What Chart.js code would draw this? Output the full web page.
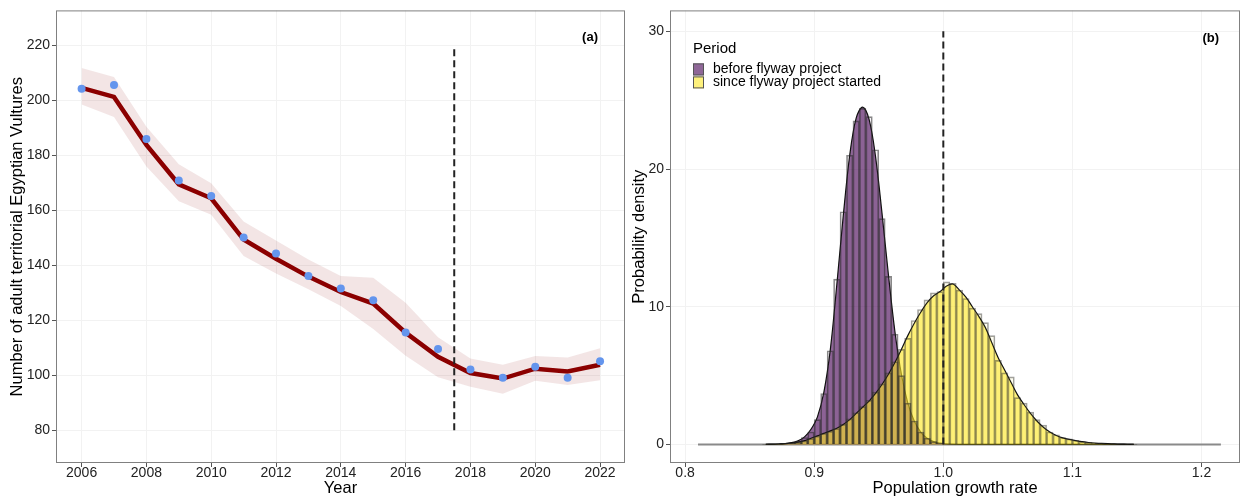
<!DOCTYPE html>
<html>
<head>
<meta charset="utf-8">
<script src="https://cdn.jsdelivr.net/npm/chart.js@4.4.1/dist/chart.umd.min.js"></script>
<style>
  html, body { margin: 0; padding: 0; background: #fff; }
  #wrap { position: relative; width: 1241px; height: 498px; }
  #leftBox { position: absolute; left: 0; top: 0; width: 630px; height: 498px; }
  #rightBox { position: absolute; left: 630px; top: 0; width: 611px; height: 498px; }
</style>
</head>
<body>
<div id="wrap">
  <div id="leftBox"><canvas id="trendChart"></canvas></div>
  <div id="rightBox"><canvas id="growthChart"></canvas></div>
</div>
<script>
// ---- panel (a): counts per year ----
const years    = [2006, 2007, 2008, 2009, 2010, 2011, 2012, 2013, 2014, 2015, 2016, 2017, 2018, 2019, 2020, 2021, 2022];
const counted  = [204.3, 205.6, 186.0, 170.9, 165.2, 150.1, 144.3, 136.1, 131.6, 127.3, 115.6, 109.6, 102.1, 99.1, 103.1, 99.1, 105.1];
const fitted   = [204.6, 201.3, 183.8, 169.5, 164.4, 149.4, 142.4, 135.9, 130.3, 126.1, 115.5, 106.7, 100.8, 98.8, 102.4, 101.4, 103.8];
const fitLower = [198.5, 194.0, 176.0, 163.3, 158.4, 143.4, 137.0, 131.3, 125.2, 116.8, 107.1, 99.3, 95.8, 93.3, 98.0, 96.5, 98.2];
const fitUpper = [211.8, 208.5, 190.4, 176.8, 169.9, 156.0, 149.0, 142.1, 136.1, 135.5, 126.4, 113.8, 106.1, 103.8, 107.0, 106.5, 109.8];
const projectStart = 2017.5;
const projectSpan  = [80, 220];
const yearTicks  = [2006, 2008, 2010, 2012, 2014, 2016, 2018, 2020, 2022];
const countTicks = [80, 100, 120, 140, 160, 180, 200, 220];

// ---- panel (b): growth rate posterior ----
const growthBins = [0.8625, 0.8675, 0.8725, 0.8775, 0.8825, 0.8875, 0.8925, 0.8975, 0.9025, 0.9075,
                    0.9125, 0.9175, 0.9225, 0.9275, 0.9325, 0.9375, 0.9425, 0.9475, 0.9525, 0.9575,
                    0.9625, 0.9675, 0.9725, 0.9775, 0.9825, 0.9875, 0.9925, 0.9975, 1.0025, 1.0075,
                    1.0125, 1.0175, 1.0225, 1.0275, 1.0325, 1.0375, 1.0425, 1.0475, 1.0525, 1.0575,
                    1.0625, 1.0675, 1.0725, 1.0775, 1.0825, 1.0875, 1.0925, 1.0975, 1.1025, 1.1075,
                    1.1125, 1.1175, 1.1225, 1.1275, 1.1325, 1.1375, 1.1425, 1.1475];
const beforeHist = [0, 0.01, 0.03, 0.06, 0.12, 0.25, 0.5, 0.9, 1.8, 3.7,
                    6.8, 12.0, 16.9, 21.0, 23.5, 24.4, 23.8, 21.4, 16.4, 12.2,
                    8.0, 5.0, 3.0, 1.7, 0.9, 0.45, 0.2, 0.08, 0.03, 0.01,
                    0, 0, 0, 0, 0, 0, 0, 0, 0, 0,
                    0, 0, 0, 0, 0, 0, 0, 0, 0, 0,
                    0, 0, 0, 0, 0, 0, 0, 0];
const sinceHist  = [0.005, 0.01, 0.02, 0.04, 0.08, 0.15, 0.25, 0.42, 0.6, 0.8,
                    0.95, 1.15, 1.45, 1.85, 2.3, 2.75, 3.2, 3.8, 4.4, 5.2,
                    6.0, 6.9, 7.7, 9.0, 9.8, 10.5, 11.0, 11.1, 11.8, 11.7,
                    11.2, 10.6, 9.9, 9.5, 8.85, 7.9, 6.1, 5.2, 4.9, 3.4,
                    3.0, 2.35, 1.8, 1.4, 0.9, 0.7, 0.5, 0.4, 0.3, 0.2,
                    0.15, 0.1, 0.07, 0.05, 0.03, 0.02, 0.01, 0.005];
const beforeDens = [0.005, 0.01, 0.03, 0.06, 0.13, 0.27, 0.55, 1.1, 2.0, 3.8,
                    6.9, 11.6, 16.6, 21.0, 23.7, 24.5, 23.6, 20.9, 16.8, 12.3,
                    8.2, 5.1, 3.0, 1.7, 0.9, 0.45, 0.2, 0.09, 0.04, 0.015,
                    0.005, 0, 0, 0, 0, 0, 0, 0, 0, 0,
                    0, 0, 0, 0, 0, 0, 0, 0, 0, 0,
                    0, 0, 0, 0, 0, 0, 0, 0];
const sinceDens  = [0.01, 0.02, 0.03, 0.05, 0.09, 0.16, 0.27, 0.45, 0.62, 0.8,
                    0.98, 1.18, 1.45, 1.8, 2.25, 2.7, 3.15, 3.7, 4.35, 5.1,
                    5.95, 6.9, 7.9, 8.8, 9.6, 10.3, 10.8, 11.1, 11.5, 11.65,
                    11.2, 10.7, 10.0, 9.3, 8.5, 7.4, 6.3, 5.4, 4.5, 3.6,
                    2.9, 2.25, 1.7, 1.25, 0.9, 0.65, 0.48, 0.36, 0.27, 0.2,
                    0.14, 0.1, 0.07, 0.05, 0.035, 0.02, 0.012, 0.006];
const growthRange  = [0.81, 1.215];
const stableRate   = 1.0;
const stableSpan   = [0, 30];
const growthTicks  = [0.8, 0.9, 1.0, 1.1, 1.2];
const densityTicks = [0, 10, 20, 30];
const periodTitle  = 'Period';
const periodLabels = ['before flyway project', 'since flyway project started'];

const FONT = '"Liberation Sans", Arial, Helvetica, sans-serif';
Chart.defaults.font.family = FONT;
Chart.defaults.color = '#222';

const purple = 'rgba(68, 1, 84, 0.6)';
const yellow = 'rgba(253, 231, 37, 0.6)';

// gray frame round the plot area plus the (a)/(b) tag
const panelFrame = {
  id: 'panelFrame',
  afterDraw(chart, args, opts) {
    const { ctx, chartArea: a } = chart;
    ctx.save();
    ctx.strokeStyle = '#808080';
    ctx.lineWidth = 1;
    ctx.strokeRect(a.left + 0.5, a.top + 0.5, a.right - a.left - 1, a.bottom - a.top - 1);
    ctx.font = 'bold 13px ' + FONT;
    ctx.fillStyle = '#000';
    ctx.textAlign = 'right';
    ctx.textBaseline = 'middle';
    ctx.fillText(opts.tag, a.right - opts.dx, a.top + opts.dy);
    ctx.restore();
  }
};

// ggplot-like legend sitting inside panel (b)
const periodLegend = {
  id: 'periodLegend',
  afterDraw(chart) {
    const { ctx, chartArea: a } = chart;
    const x0 = a.left + 23;
    ctx.save();
    ctx.fillStyle = '#000';
    ctx.textAlign = 'left';
    ctx.textBaseline = 'middle';
    ctx.font = '15px ' + FONT;
    ctx.fillText(periodTitle, x0, a.top + 38);
    const fills = [purple, yellow];
    ctx.font = '14px ' + FONT;
    periodLabels.forEach((lab, i) => {
      const y = a.top + 53 + i * 13;
      ctx.fillStyle = '#fff';
      ctx.fillRect(x0, y, 11, 12);
      ctx.fillStyle = fills[i];
      ctx.fillRect(x0, y, 11, 12);
      ctx.strokeStyle = '#555';
      ctx.lineWidth = 1;
      ctx.strokeRect(x0 + 0.5, y + 0.5, 10, 11);
      ctx.fillStyle = '#000';
      ctx.fillText(lab, x0 + 20, y + 6);
    });
    ctx.restore();
  }
};

function axisLook(ticksArr, fmt, fixSize, titleText, titleSize, titlePad, tickPad) {
  return {
    type: 'linear',
    offset: false,
    afterBuildTicks: s => { s.ticks = ticksArr.map(v => ({ value: v })); },
    afterFit: fixSize,
    ticks: { callback: fmt, font: { size: 14 }, color: '#222', padding: tickPad, autoSkip: false, maxRotation: 0 },
    grid: { color: '#f2f2f2', tickColor: '#555', tickLength: 4, offset: false },
    border: { display: false },
    title: { display: true, text: titleText, font: { size: titleSize }, color: '#000', padding: titlePad }
  };
}

const trendChart = new Chart(document.getElementById('trendChart'), {
  type: 'line',
  data: {
    datasets: [
      {
        label: 'upper', data: years.map((y, i) => ({ x: y, y: fitUpper[i] })),
        borderWidth: 0, pointRadius: 0, fill: false, order: 5
      },
      {
        label: 'lower', data: years.map((y, i) => ({ x: y, y: fitLower[i] })),
        borderWidth: 0, pointRadius: 0, fill: '-1', backgroundColor: 'rgba(139, 0, 0, 0.1)', order: 4
      },
      {
        label: 'fitted', data: years.map((y, i) => ({ x: y, y: fitted[i] })),
        borderColor: '#8b0000', borderWidth: 4.5, pointRadius: 0, tension: 0, order: 2
      },
      {
        label: 'counted', data: years.map((y, i) => ({ x: y, y: counted[i] })),
        showLine: false, pointRadius: 4, pointBackgroundColor: '#6495ed', pointBorderWidth: 0, order: 1
      },
      {
        label: 'project start', data: projectSpan.map(v => ({ x: projectStart, y: v })),
        borderColor: '#222', borderWidth: 2, borderDash: [7, 4], pointRadius: 0, order: 0
      }
    ]
  },
  options: {
    responsive: true,
    maintainAspectRatio: false,
    animation: false,
    layout: { padding: { top: 8, right: 5, bottom: 0, left: 0 } },
    plugins: { legend: { display: false }, tooltip: { enabled: false }, panelFrame: { tag: '(a)', dx: 27, dy: 27 } },
    scales: {
      x: Object.assign(axisLook(yearTicks, v => String(v), s => { s.height = 35; }, 'Year', 16.5, { top: 0, bottom: 0 }, -2),
        { min: 2005.21, max: 2022.77 }),
      y: Object.assign(axisLook(countTicks, v => String(v), s => { s.width = 56; },
        'Number of adult territorial Egyptian Vultures', 16.5, { top: 8, bottom: 0 }, 2),
        { min: 68.07, max: 232.78 })
    }
  },
  plugins: [panelFrame]
});

const growthChart = new Chart(document.getElementById('growthChart'), {
  type: 'bar',
  data: {
    datasets: [
      {
        type: 'line', label: 'baseline', data: growthRange.map(v => ({ x: v, y: 0 })),
        borderColor: '#8a8a8a', borderWidth: 2, pointRadius: 0, order: 7
      },
      {
        type: 'line', label: periodLabels[0] + ' density', data: growthBins.map((x, i) => ({ x, y: beforeDens[i] })),
        borderColor: '#111', borderWidth: 1.2, pointRadius: 0, tension: 0.35,
        fill: 'origin', backgroundColor: purple, order: 6
      },
      {
        type: 'line', label: periodLabels[1] + ' density', data: growthBins.map((x, i) => ({ x, y: sinceDens[i] })),
        borderColor: '#111', borderWidth: 1.2, pointRadius: 0, tension: 0.35,
        fill: 'origin', backgroundColor: yellow, order: 5
      },
      {
        label: periodLabels[0], data: growthBins.map((x, i) => ({ x, y: beforeHist[i] })),
        backgroundColor: 'rgba(68, 1, 84, 0.04)', borderColor: 'rgba(40, 40, 40, 0.55)', borderWidth: 1,
        barPercentage: 1, categoryPercentage: 1, grouped: false, order: 4
      },
      {
        label: periodLabels[1], data: growthBins.map((x, i) => ({ x, y: sinceHist[i] })),
        backgroundColor: 'rgba(253, 231, 37, 0.06)', borderColor: 'rgba(40, 40, 40, 0.45)', borderWidth: 1,
        barPercentage: 1, categoryPercentage: 1, grouped: false, order: 3
      },
      {
        type: 'line', label: 'stable', data: stableSpan.map(v => ({ x: stableRate, y: v })),
        borderColor: '#222', borderWidth: 2, borderDash: [7, 4], pointRadius: 0, order: 0
      }
    ]
  },
  options: {
    responsive: true,
    maintainAspectRatio: false,
    animation: false,
    layout: { padding: { top: 8, right: 1, bottom: 0, left: 0 } },
    plugins: { legend: { display: false }, tooltip: { enabled: false }, panelFrame: { tag: '(b)', dx: 21, dy: 28 } },
    scales: {
      x: Object.assign(axisLook(growthTicks, v => Number(v).toFixed(1), s => { s.height = 35; },
        'Population growth rate', 16.5, { top: 0, bottom: 0 }, -2),
        { min: 0.7883, max: 1.2298 }),
      y: Object.assign(axisLook(densityTicks, v => String(v), s => { s.width = 40; },
        'Probability density', 16.5, { top: 0, bottom: 0 }, 2),
        { min: -1.35, max: 31.52 })
    }
  },
  plugins: [panelFrame, periodLegend]
});
</script>
</body>
</html>
